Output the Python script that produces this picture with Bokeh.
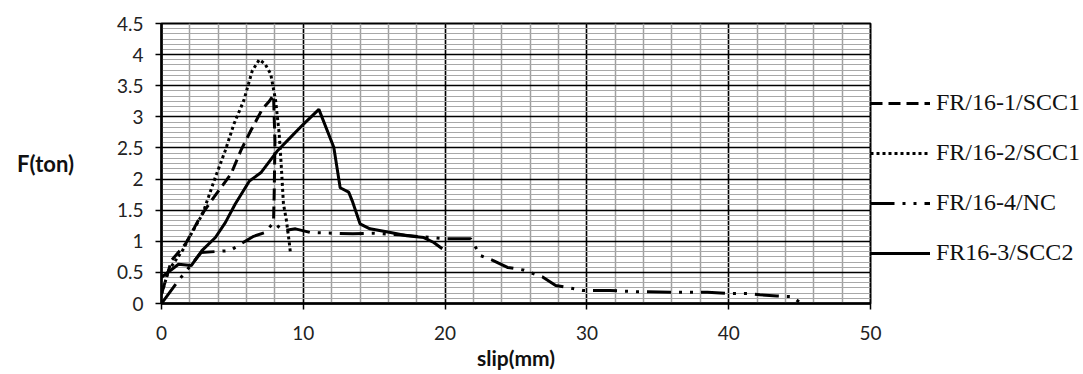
from bokeh.plotting import figure
from bokeh.models import Range1d, SingleIntervalTicker, Legend, LegendItem
from bokeh.embed import file_html
from bokeh.resources import INLINE

# FR/16-1/SCC1 (dashed)
x_fr161 = [0, 0.7, 1.7, 2.8, 3.7, 4.9, 5.6, 6.3, 7.1, 7.6, 7.9, 8.0, 7.95, 7.9]
y_fr161 = [0.15, 0.69, 0.96, 1.42, 1.71, 2.08, 2.46, 2.78, 3.12, 3.25, 3.35, 2.6, 1.8, 1.3]

# FR/16-2/SCC1 (dotted)
x_fr162 = [0, 0.5, 1.5, 2.1, 2.9, 3.8, 4.5, 5.1, 5.8, 6.4, 6.9, 7.3, 7.7, 8.05, 8.3, 8.45, 8.6, 8.8, 9.0, 9.1]
y_fr162 = [0.15, 0.53, 0.86, 1.12, 1.44, 2.03, 2.46, 2.88, 3.26, 3.74, 3.92, 3.85, 3.69, 3.26, 2.73, 2.2, 1.6, 1.35, 1.0, 0.8]

# FR/16-4/NC (dash-dot-dot)
x_fr164 = [0, 1.2, 2.8, 4.85, 5.6, 6.5, 7.3, 7.9, 8.6, 9.45, 10.5, 13.5, 15, 17, 19, 20.1, 21.8, 22.5,
           23.4, 24.4, 25.5, 26.85, 27.8, 28.6, 29.7, 31.6, 33.5, 36.5, 38.5, 40, 41.4, 42.2, 43.4, 44.5, 45.1]
y_fr164 = [0, 0.37, 0.82, 0.85, 0.96, 1.08, 1.14, 1.3, 1.17, 1.2, 1.14, 1.12, 1.13, 1.1, 1.06, 1.04, 1.04, 0.77,
           0.69, 0.58, 0.54, 0.43, 0.29, 0.26, 0.21, 0.21, 0.19, 0.18, 0.18, 0.16, 0.16, 0.14, 0.12, 0.11, 0.0]

# FR16-3/SCC2 (solid)
x_fr163 = [0, 1.2, 2.1, 2.85, 3.8, 4.5, 5.2, 6.2, 7.0, 8.2, 9.1, 10.0, 11.1, 12.15, 12.6, 13.2, 13.45,
           14.0, 14.7, 16.15, 17.3, 18.5, 19.2, 19.8]
y_fr163 = [0.42, 0.63, 0.61, 0.85, 1.06, 1.3, 1.6, 1.97, 2.1, 2.46, 2.67, 2.88, 3.12, 2.51, 1.86, 1.79, 1.65,
           1.28, 1.2, 1.14, 1.09, 1.06, 0.98, 0.88]

labels = ["FR/16-1/SCC1", "FR/16-2/SCC1", "FR/16-4/NC", "FR16-3/SCC2"]

p = figure(frame_width=709, frame_height=280, output_backend="svg", toolbar_location=None,
           x_range=Range1d(0, 50), y_range=Range1d(0, 4.5),
           min_border_left=161, min_border_top=23, min_border_bottom=60, min_border_right=0)
p.background_fill_color = "white"
p.outline_line_color = "black"
p.outline_line_width = 2

p.xaxis.ticker = SingleIntervalTicker(interval=10, num_minor_ticks=5)
p.yaxis.ticker = SingleIntervalTicker(interval=0.5, num_minor_ticks=6)

p.xgrid.grid_line_color = "black"
p.xgrid.grid_line_width = 1.5
p.xgrid.minor_grid_line_color = "#a0a0a0"
p.xgrid.minor_grid_line_width = 1.5
p.ygrid.grid_line_color = "black"
p.ygrid.grid_line_width = 1.5
p.ygrid.minor_grid_line_color = "#a8a8a8"
p.ygrid.minor_grid_line_width = 1.2

for ax in (p.xaxis[0], p.yaxis[0]):
    ax.axis_line_color = "black"
    ax.axis_line_width = 2.5
    ax.major_tick_line_color = "black"
    ax.major_tick_line_width = 1.5
    ax.major_tick_out = 6
    ax.major_tick_in = 0
    ax.minor_tick_line_color = None
    ax.major_label_text_font = "Lato"
    ax.major_label_text_font_size = "19px"
    ax.major_label_text_color = "#222222"
    ax.axis_label_text_font = "Lato"
    ax.axis_label_text_font_style = "bold"
    ax.axis_label_text_color = "#111111"

p.xaxis.major_label_standoff = 16
p.xaxis.axis_label = "slip(mm)"
p.xaxis.axis_label_text_font_size = "21px"
p.xaxis.axis_label_standoff = 2

p.yaxis.major_label_standoff = 12
p.yaxis.axis_label = "F(ton)"
p.yaxis.axis_label_text_font_size = "22px"
p.yaxis.axis_label_orientation = "horizontal"
p.yaxis.axis_label_standoff = 40

r1 = p.line(x_fr161, y_fr161, line_color="black", line_width=3, line_dash="12 6")
r2 = p.line(x_fr162, y_fr162, line_color="black", line_width=3, line_dash="3 3")
r4 = p.line(x_fr164, y_fr164, line_color="black", line_width=3, line_dash="24 8 3 8 3 8")
r3 = p.line(x_fr163, y_fr163, line_color="black", line_width=3)

legend = Legend(items=[LegendItem(label=labels[0], renderers=[r1]),
                       LegendItem(label=labels[1], renderers=[r2]),
                       LegendItem(label=labels[2], renderers=[r4]),
                       LegendItem(label=labels[3], renderers=[r3])],
                location=(0, 37), glyph_width=60, glyph_height=20, label_height=20,
                label_standoff=6, spacing=23, padding=0, margin=0,
                label_text_font="Liberation Serif", label_text_font_size="24px",
                label_text_color="#111111",
                border_line_color=None, background_fill_alpha=0)
p.add_layout(legend, "right")

open("out.html", "w").write(file_html(p, INLINE))
